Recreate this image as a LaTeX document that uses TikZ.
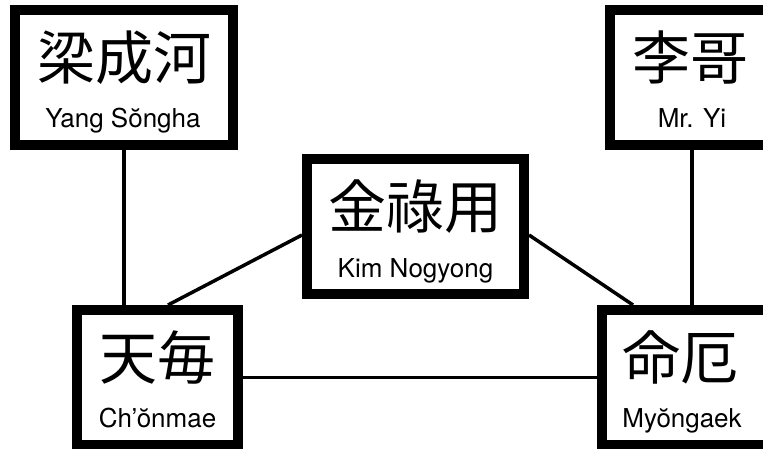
\documentclass[tikz,border=0pt]{standalone}
\usepackage{fontspec}
\setmainfont{TeX Gyre Heros}
\newfontfamily\cjk{Noto Sans CJK JP}
\begin{document}
\begin{tikzpicture}[x=1pt,y=-1pt,
  box/.style={draw, line width=10pt, fill=white, inner sep=0pt, minimum height=135pt},
  conn/.style={line width=3.5pt},
  cjkt/.style={font=\cjk\fontsize{58}{58}\selectfont, anchor=center, inner sep=0pt},
  lat/.style={font=\fontsize{26}{26}\selectfont, anchor=base, inner sep=0pt}]
\useasboundingbox (0,0) rectangle (763,449);
\clip (0,0) rectangle (763,449);
\fill[white] (0,0) rectangle (763,449);
% boxes
\node[box, minimum width=218pt] (a) at (124,77.5) {};
\node[box, minimum width=164pt] (b) at (692,77.5) {};
\node[box, minimum width=217pt] (c) at (415.5,226.5) {};
\node[box, minimum width=161pt] (d) at (157.5,377.5) {};
\node[box, minimum width=180pt] (e) at (692,377.5) {};
% texts
\node[cjkt] (at) at (124,57.5) {梁成河};
\node[lat] (al) at (123,127.5) {Yang Sŏngha};
\node[cjkt] (bt) at (690,57.5) {李哥};
\node[lat] (bl) at (692,127.5) {Mr. Yi};
\node[cjkt] (ct) at (415.5,206.5) {金祿用};
\node[lat] (cl) at (415.5,277) {Kim Nogyong};
\node[cjkt] (dt) at (157.5,357.5) {天毎};
\node[lat] (dl) at (157.5,427.5) {Ch’ŏnmae};
\node[cjkt] (et) at (680,357.5) {命厄};
\node[lat] (el) at (682,427.5) {Myŏngaek};
% connectors
\draw[conn] (a.south) -- (a.south |- d.north);
\draw[conn] (b.south) -- (b.south |- e.north);
\draw[conn] ([yshift=-8.5pt]c.west) -- ([xshift=10.5pt]d.north);
\draw[conn] ([yshift=-8.5pt]c.east) -- ([xshift=-59pt]e.north);
\draw[conn] (d.east) -- (e.west);
\end{tikzpicture}
\end{document}
